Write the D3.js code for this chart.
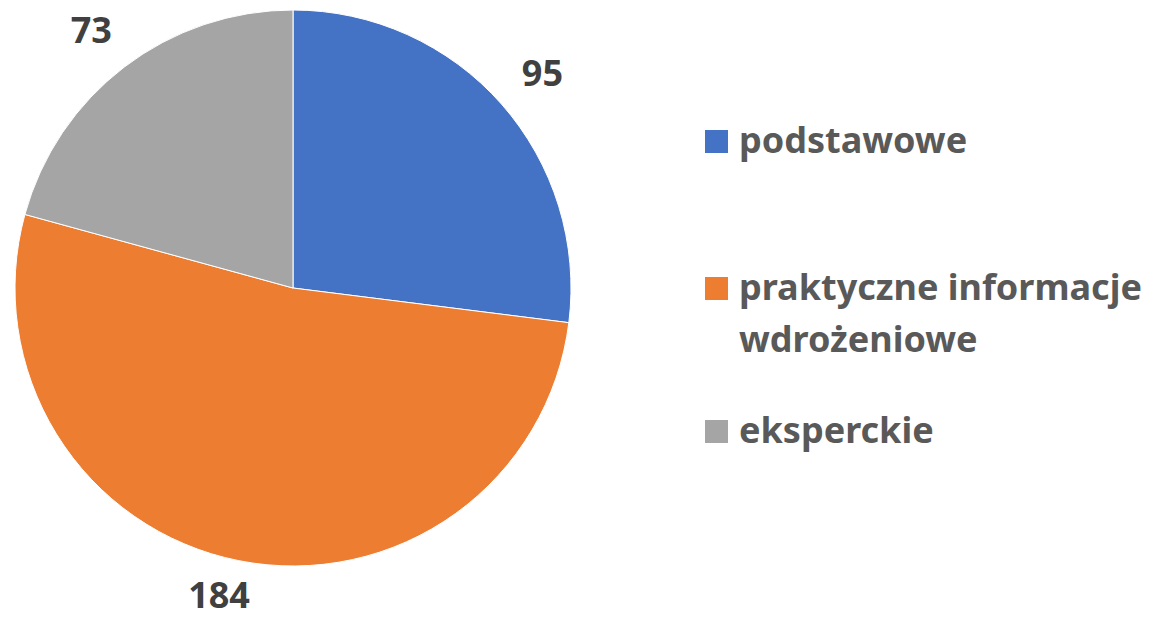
<!DOCTYPE html>
<html>
<head>
<meta charset="utf-8">
<script src="https://cdn.jsdelivr.net/npm/d3@7"></script>
<style>
  body { margin: 0; background: #fff; }
  svg text { font-family: "Noto Sans", "Open Sans", sans-serif; font-weight: 700; }
</style>
</head>
<body>
<div id="chart"></div>
<script>
var categories = ['podstawowe', 'praktyczne informacje wdrożeniowe', 'eksperckie'];
var values = [95, 184, 73];
var legend_lines = [['podstawowe'], ['praktyczne informacje', 'wdrożeniowe'], ['eksperckie']];
var colors = ['#4472C4', '#ED7D31', '#A5A5A5'];

var width = 1156, height = 619;
var cx = 293, cy = 288, radius = 278;
var label_gap = 34; // distance of label box from pie edge

var svg = d3.select('#chart').append('svg')
    .attr('width', width)
    .attr('height', height);

var data = categories.map(function(c, i) { return { name: c, value: values[i], color: colors[i] }; });

var pie = d3.pie()
    .sort(null)
    .value(function(d) { return d.value; });

var arc = d3.arc().innerRadius(0).outerRadius(radius);

var pie_group = svg.append('g')
    .attr('transform', `translate(${cx}, ${cy})`);

var arcs = pie(data);

pie_group.selectAll('path')
    .data(arcs)
    .enter()
    .append('path')
    .attr('d', arc)
    .attr('fill', function(d) { return d.data.color; })
    .attr('stroke', '#fff')
    .attr('stroke-width', 1);

// outside-end labels: box pushed outward along the mid angle, kept inside the chart
var labels = pie_group.selectAll('text.label')
    .data(arcs)
    .enter()
    .append('text')
    .attr('class', 'label')
    .attr('text-anchor', 'middle')
    .style('font-size', '36px')
    .attr('fill', '#404040')
    .text(function(d) { return d.data.value; });

labels.each(function(d) {
    var bb = this.getBBox();
    var a = (d.startAngle + d.endAngle) / 2;
    var R = radius + label_gap;
    var x = Math.sin(a) * R + Math.sin(a) * bb.width / 2;
    var y = -Math.cos(a) * R - Math.cos(a) * 26 / 2;
    // clamp so the whole text box stays inside the svg
    var maxY = height - cy - 24;
    var minY = -cy + 15;
    if (y > maxY) { x -= (y - maxY) * 0.6; y = maxY; }
    y = Math.max(minY, y);
    d3.select(this).attr('x', x).attr('y', y + 13);
});

// legend
var legend_x = 705;
var legend_rows = [153, 300, 443];
var line_height = 52;

var legend = svg.append('g').attr('id', 'legend');

legend_lines.forEach(function(lines, i) {
    var row = legend.append('g').attr('transform', `translate(${legend_x}, ${legend_rows[i]})`);
    row.append('rect')
        .attr('x', 0)
        .attr('y', -23)
        .attr('width', 23)
        .attr('height', 23)
        .attr('fill', colors[i]);
    lines.forEach(function(t, j) {
        row.append('text')
            .attr('x', 34)
            .attr('y', j * line_height)
            .style('font-size', '36px')
            .attr('fill', '#595959')
            .text(t);
    });
});
</script>
</body>
</html>
